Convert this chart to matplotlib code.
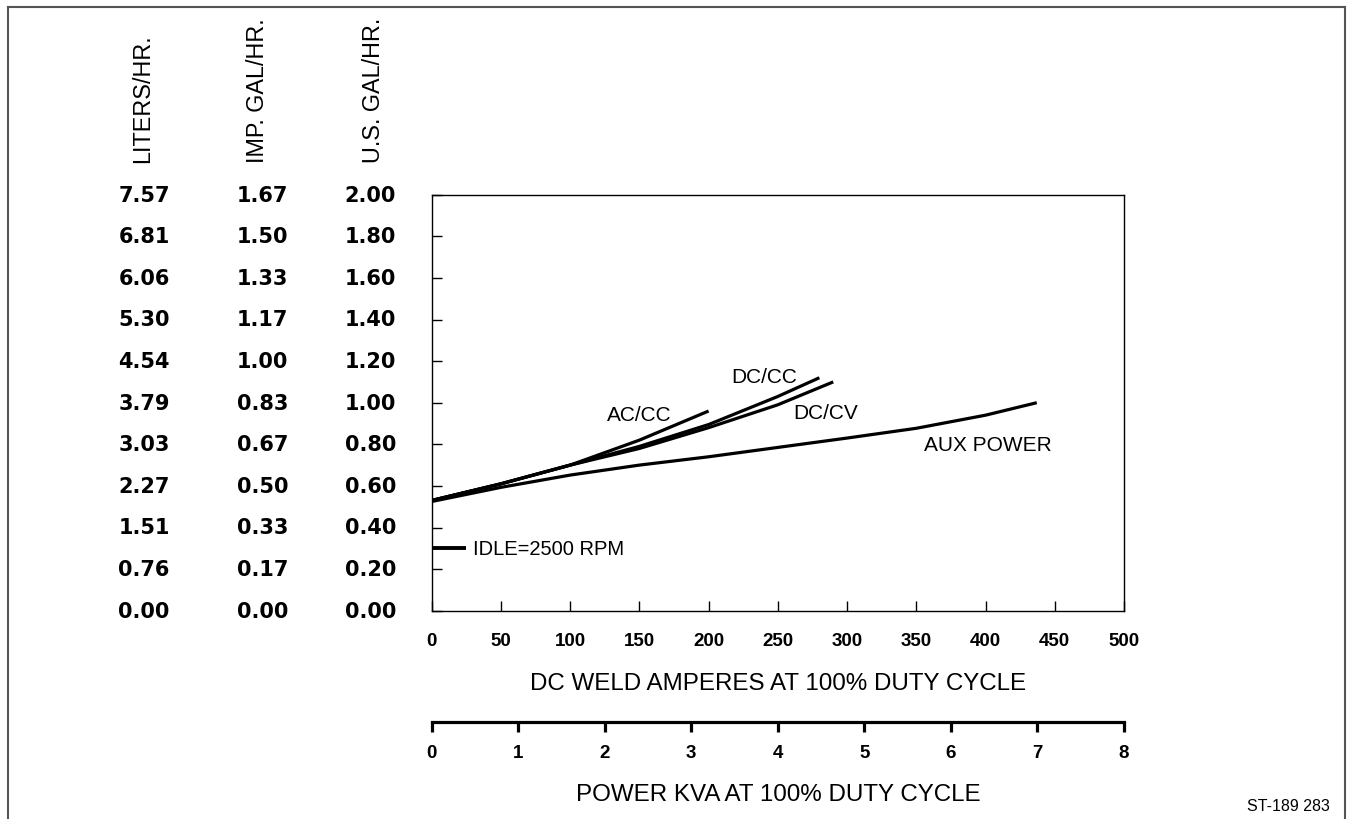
import matplotlib.pyplot as plt
import matplotlib.transforms as mtransforms
from matplotlib.lines import Line2D
from matplotlib import font_manager

# =========================
# DATA
# =========================
us_gal = [0.00, 0.20, 0.40, 0.60, 0.80, 1.00, 1.20, 1.40, 1.60, 1.80, 2.00]
liters = ['0.00', '0.76', '1.51', '2.27', '3.03', '3.79', '4.54', '5.30', '6.06', '6.81', '7.57']
imp_gal = ['0.00', '0.17', '0.33', '0.50', '0.67', '0.83', '1.00', '1.17', '1.33', '1.50', '1.67']
us_labels = ['%.2f' % v for v in us_gal]

amp_ticks = list(range(0, 501, 50))
kva_ticks = list(range(0, 9))

ac_cc_amps = [0, 50, 100, 150, 200]
ac_cc_fuel = [0.53, 0.61, 0.70, 0.82, 0.96]

dc_cc_amps = [0, 50, 100, 150, 200, 250, 280]
dc_cc_fuel = [0.53, 0.61, 0.70, 0.79, 0.895, 1.03, 1.12]

dc_cv_amps = [0, 50, 100, 150, 200, 250, 290]
dc_cv_fuel = [0.53, 0.61, 0.70, 0.78, 0.88, 0.99, 1.10]

aux_amps = [0, 50, 100, 150, 200, 250, 300, 350, 400, 437]
aux_fuel = [0.525, 0.593, 0.652, 0.700, 0.740, 0.785, 0.830, 0.877, 0.940, 1.00]

idle_amps = [0, 25]
idle_fuel = [0.30, 0.30]

# condensed face if the system has one
names = {f.name for f in font_manager.fontManager.ttflist}
NARROW = [n for n in ['Liberation Sans Narrow', 'DejaVu Sans Condensed'] if n in names]
HAS_NARROW = len(NARROW) > 0
NARROW = NARROW + ['Liberation Sans']
SANS = ['Liberation Sans', 'DejaVu Sans']

# sizes depend on whether a narrow face exists
title_size = 20 if HAS_NARROW else 17.4
hdr_size = 19 if HAS_NARROW else 16.8

# =========================
# FIGURE
# =========================
W, H = 1353, 820
fig = plt.figure(figsize=(W / 100, H / 100), dpi=100)

def fx(px):
    return px / W

def fy(py):
    return 1 - py / H

ax = fig.add_axes([fx(431.7), fy(611.7), fx(1124) - fx(431.7), fy(195.7) - fy(611.7)])
ax.set_xlim(0, 500)
ax.set_ylim(0, 2)

for a, f in [(ac_cc_amps, ac_cc_fuel), (dc_cc_amps, dc_cc_fuel),
             (dc_cv_amps, dc_cv_fuel), (aux_amps, aux_fuel)]:
    ax.plot(a, f, color='black', linewidth=2.3, solid_capstyle='butt')
ax.plot(idle_amps, idle_fuel, color='black', linewidth=2.8, solid_capstyle='butt')

# curve labels
lab_kw = dict(family=SANS, fontsize=15, ha='center', va='center')
ax.text(149.6, 0.942, 'AC/CC', **lab_kw)
ax.text(240, 1.127, 'DC/CC', **lab_kw)
ax.text(284.8, 0.951, 'DC/CV', **lab_kw)
ax.text(401.6, 0.800, 'AUX POWER', **lab_kw)
ax.text(29.5, 0.30, 'IDLE=2500 RPM', family=SANS, fontsize=14.5, ha='left', va='center')

for s in ax.spines.values():
    s.set_linewidth(1.0)

ax.set_yticks(us_gal)
ax.set_yticklabels([])
ax.tick_params(axis='y', direction='in', length=7.5, width=1.0)
ax.set_xticks(amp_ticks)
ax.set_xticklabels([str(t) for t in amp_ticks], family=SANS, fontsize=13.5, fontweight='bold')
ax.tick_params(axis='x', direction='in', length=7.5, width=1.0, pad=15.5)
ax.set_xlabel('DC WELD AMPERES AT 100% DUTY CYCLE', family=NARROW, fontsize=title_size, labelpad=16.5)

# three fuel columns on the left
trans = mtransforms.blended_transform_factory(fig.transFigure, ax.transData)
col_kw = dict(family=['DejaVu Sans'], fontsize=15, fontweight='bold',
              ha='center', va='center', transform=trans)
for y, l1, l2, l3 in zip(us_gal, liters, imp_gal, us_labels):
    fig.text(fx(144), y, l1, **col_kw)
    fig.text(fx(262.5), y, l2, **col_kw)
    fig.text(fx(370.5), y, l3, **col_kw)

hdr_kw = dict(family=NARROW, fontsize=hdr_size, rotation=90, ha='center', va='bottom')
fig.text(fx(143), fy(163), 'LITERS/HR.', **hdr_kw)
fig.text(fx(257), fy(163), 'IMP. GAL/HR.', **hdr_kw)
fig.text(fx(373), fy(163), 'U.S. GAL/HR.', **hdr_kw)

# KVA scale
ax2 = fig.add_axes([fx(431.7), fy(723), fx(1124) - fx(431.7), 0.0001])
ax2.set_xlim(0, 8)
ax2.set_ylim(0, 1)
for side in ['top', 'left', 'right']:
    ax2.spines[side].set_visible(False)
ax2.spines['bottom'].set_linewidth(2.3)
ax2.set_yticks([])
ax2.set_xticks(kva_ticks)
ax2.set_xticklabels([str(t) for t in kva_ticks], family=SANS, fontsize=13.5, fontweight='bold')
ax2.tick_params(axis='x', direction='out', length=7.5, width=2.3, pad=8)
ax2.set_xlabel('POWER KVA AT 100% DUTY CYCLE', family=NARROW, fontsize=title_size, labelpad=16)

fig.text(fx(1288), fy(807), 'ST-189 283', family=SANS, fontsize=11.5, ha='center', va='center')

# page frame
bx0, bx1, by0 = fx(7.5), fx(1344.5), fy(7.5)
for xs, ys in [([bx0, bx0], [0, by0]), ([bx0, bx1], [by0, by0]), ([bx1, bx1], [by0, 0])]:
    fig.add_artist(Line2D(xs, ys, transform=fig.transFigure, color='#555555', linewidth=1.5))

fig.savefig('out.png', dpi=100)
